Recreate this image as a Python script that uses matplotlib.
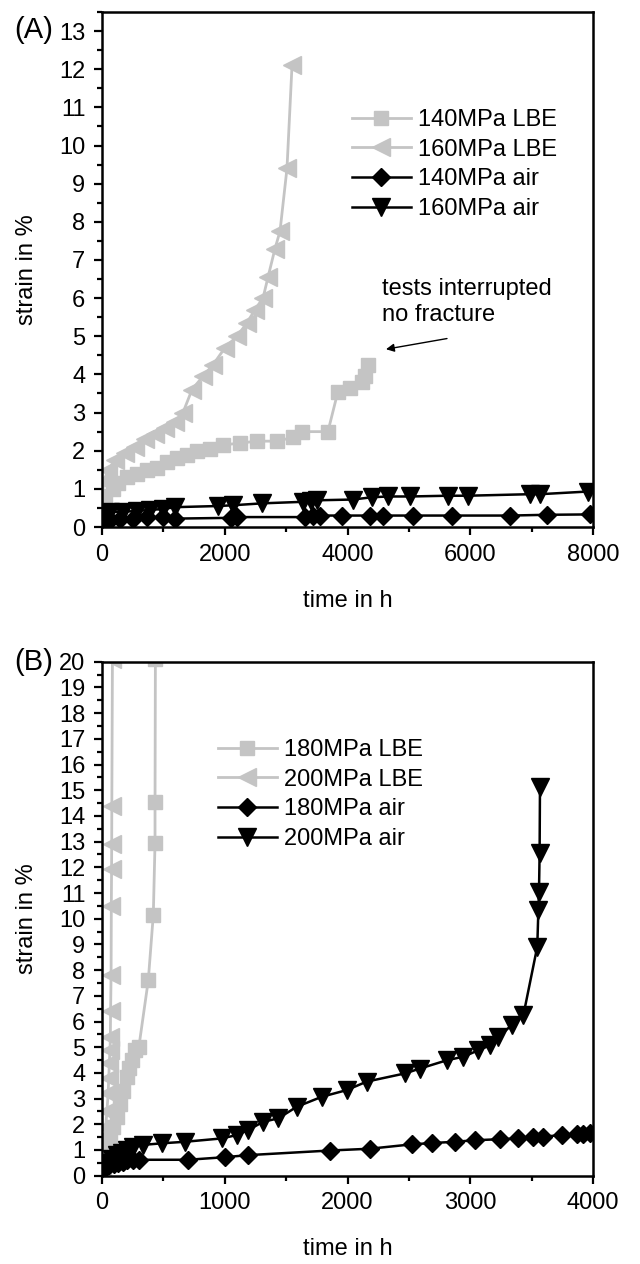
import matplotlib
matplotlib.use("Agg")
import matplotlib.pyplot as plt
from matplotlib.ticker import MultipleLocator

plt.rcParams['font.family'] = ['Liberation Sans', 'DejaVu Sans']

# ---------------- Panel A data ----------------
a_t_140_lbe = [0, 49, 180, 260, 407, 570, 733, 896, 1059, 1222, 1385, 1548, 1760, 1971, 2248, 2525,
               2850, 3111, 3258, 3681, 3844, 4040, 4235, 4285, 4333]
a_s_140_lbe = [0.5, 0.8, 1.0, 1.15, 1.3, 1.4, 1.5, 1.55, 1.7, 1.8, 1.9, 2.0, 2.05, 2.15, 2.2, 2.25,
               2.25, 2.35, 2.5, 2.5, 3.55, 3.65, 3.8, 3.95, 4.25]

a_t_160_lbe = [0, 30, 100, 212, 375, 537, 700, 864, 1026, 1190, 1320, 1466, 1645, 1808, 2004, 2200,
               2362, 2493, 2623, 2705, 2819, 2900, 3014, 3096]
a_s_160_lbe = [0.8, 1.2, 1.5, 1.75, 1.95, 2.1, 2.3, 2.45, 2.6, 2.75, 3.0, 3.6, 3.95, 4.25, 4.7, 5.0,
               5.35, 5.7, 6.0, 6.55, 7.3, 7.75, 9.4, 12.1]

a_t_140_air = [0, 130, 300, 505, 733, 994, 1190, 2100, 2200, 3300, 3437, 3550, 3910, 4366, 4578,
               5067, 5702, 6647, 7250, 7950]
a_s_140_air = [0.15, 0.18, 0.2, 0.22, 0.25, 0.25, 0.22, 0.24, 0.26, 0.26, 0.3, 0.3, 0.3, 0.3, 0.3,
               0.3, 0.3, 0.3, 0.32, 0.33]

a_t_160_air = [0, 130, 342, 570, 782, 994, 1190, 1890, 2134, 2607, 3274, 3400, 3500, 4089, 4399,
               4660, 5018, 5637, 5963, 6973, 7136, 7919]
a_s_160_air = [0.3, 0.4, 0.4, 0.42, 0.45, 0.47, 0.52, 0.55, 0.57, 0.62, 0.66, 0.68, 0.7, 0.72, 0.78,
               0.8, 0.8, 0.82, 0.82, 0.86, 0.86, 0.93]

a_labels = ["140MPa LBE", "160MPa LBE", "140MPa air", "160MPa air"]

# ---------------- Panel B data ----------------
b_t_180_lbe = [0, 20, 40, 65, 92, 120, 147, 174, 201, 220, 242, 269, 300, 377, 418, 432, 432, 435]
b_s_180_lbe = [0.3, 0.7, 1.0, 1.4, 1.9, 2.3, 2.8, 3.3, 3.85, 4.2, 4.5, 4.9, 5.0, 7.6, 10.15, 12.95,
               14.55, 20.1]

b_t_200_lbe = [0, 10, 20, 30, 40, 50, 55, 60, 65, 68, 70, 74, 76, 78, 79, 80, 85]
b_s_200_lbe = [0.3, 0.8, 1.3, 1.9, 2.5, 3.2, 3.8, 4.4, 4.9, 5.4, 6.4, 7.8, 10.5, 11.95, 12.9, 14.4,
               20.1]

b_t_180_air = [0, 30, 60, 100, 130, 170, 200, 250, 300, 700, 1000, 1190, 1857, 2183, 2523, 2686,
               2876, 3039, 3242, 3392, 3514, 3596, 3745, 3867, 3921, 3976]
b_s_180_air = [0.3, 0.35, 0.4, 0.45, 0.5, 0.55, 0.6, 0.62, 0.62, 0.62, 0.72, 0.8, 0.98, 1.05, 1.22,
               1.27, 1.32, 1.38, 1.42, 1.45, 1.5, 1.52, 1.58, 1.62, 1.63, 1.65]

b_t_200_air = [0, 40, 80, 120, 160, 200, 250, 337, 486, 676, 975, 1097, 1192, 1314, 1436, 1586,
               1790, 1993, 2156, 2468, 2591, 2808, 2944, 3066, 3161, 3229, 3338, 3433, 3546, 3555,
               3560, 3565, 3568]
b_s_200_air = [0.3, 0.5, 0.65, 0.8, 0.9, 1.0, 1.1, 1.2, 1.26, 1.32, 1.45, 1.58, 1.78, 2.1, 2.23,
               2.68, 3.07, 3.33, 3.66, 3.98, 4.17, 4.49, 4.63, 4.88, 5.07, 5.4, 5.86, 6.25, 8.91,
               10.34, 11.05, 12.54, 15.14]

b_labels = ["180MPa LBE", "200MPa LBE", "180MPa air", "200MPa air"]

GRAY = '#c4c4c4'
FS = 17
W, H = 640, 1264
fig = plt.figure(figsize=(W / 100, H / 100), dpi=100)

left = 102 / W
width = 491 / W
axA = fig.add_axes([left, 1 - 527 / H, width, 515 / H])
axB = fig.add_axes([left, 1 - 1175.7 / H, width, 514 / H])

styles = [
    dict(color=GRAY, marker='s', markersize=10.5, lw=2.0),
    dict(color=GRAY, marker='<', markersize=13, lw=2.0),
    dict(color='black', marker='D', markersize=9.5, lw=1.8),
    dict(color='black', marker='v', markersize=13, lw=1.8),
]


def style_axes(ax, xmax, xmaj, xmin, ymax, ymaj):
    ax.set_xlim(0, xmax)
    ax.set_ylim(0, ymax)
    ax.xaxis.set_major_locator(MultipleLocator(xmaj))
    ax.xaxis.set_minor_locator(MultipleLocator(xmin))
    ax.yaxis.set_major_locator(MultipleLocator(ymaj))
    ax.yaxis.set_minor_locator(MultipleLocator(ymaj / 2))
    for sp in ax.spines.values():
        sp.set_linewidth(1.8)
    ax.tick_params(which='major', direction='out', length=6, width=1.6, labelsize=FS, pad=6)
    ax.tick_params(which='minor', direction='out', length=3.5, width=1.6)
    ax.set_ylabel("strain in %", fontsize=FS)
    ax.set_xlabel("time in h", fontsize=FS)
    ax.yaxis.set_label_coords(-0.13, 0.5)
    ax.xaxis.set_label_coords(0.5, -0.122)


# Panel A
seriesA = [(a_t_140_lbe, a_s_140_lbe), (a_t_160_lbe, a_s_160_lbe),
           (a_t_140_air, a_s_140_air), (a_t_160_air, a_s_160_air)]
for (t, s), st, lab in zip(seriesA, styles, a_labels):
    axA.plot(t, s, label=lab, clip_on=True, **st)
style_axes(axA, 8000, 2000, 1000, 13.5, 1)
axA.legend(loc='upper left', bbox_to_anchor=(0.509, 0.812), frameon=False, fontsize=FS,
           handlelength=2.5, handletextpad=0.3, labelspacing=0.33, borderpad=0,
           borderaxespad=0, numpoints=1)
axA.text(4562, 5.9, "tests interrupted\nno fracture", fontsize=FS, ha='left', va='center',
         linespacing=1.2)
axA.annotate("", xy=(4627, 4.66), xytext=(5621, 4.94),
             arrowprops=dict(arrowstyle='-|>', color='black', lw=1.0, mutation_scale=12,
                             shrinkA=0, shrinkB=0))

# Panel B
seriesB = [(b_t_180_lbe, b_s_180_lbe), (b_t_200_lbe, b_s_200_lbe),
           (b_t_180_air, b_s_180_air), (b_t_200_air, b_s_200_air)]
for (t, s), st, lab in zip(seriesB, styles, b_labels):
    axB.plot(t, s, label=lab, clip_on=True, **st)
style_axes(axB, 4000, 1000, 500, 20, 1)
axB.legend(loc='upper left', bbox_to_anchor=(0.236, 0.85), frameon=False, fontsize=FS,
           handlelength=2.5, handletextpad=0.3, labelspacing=0.33, borderpad=0,
           borderaxespad=0, numpoints=1)

fig.text(14 / W, 1 - 30 / H, "(A)", fontsize=21, ha='left', va='center')
fig.text(14 / W, 1 - 662 / H, "(B)", fontsize=21, ha='left', va='center')

fig.savefig("out.png", dpi=100)
